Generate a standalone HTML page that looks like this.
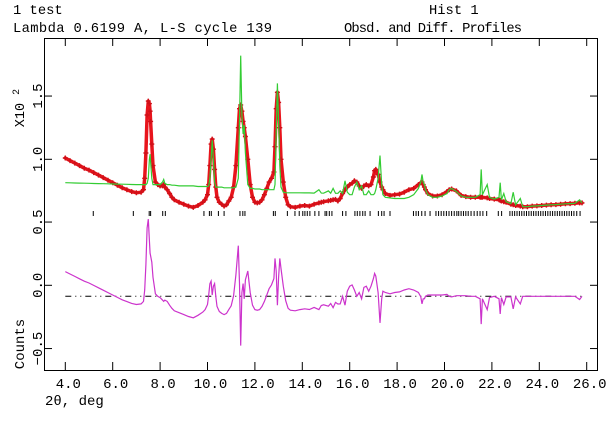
<!DOCTYPE html>
<html><head><meta charset="utf-8"><style>
html,body{margin:0;padding:0;background:#fff;}
svg{display:block;font-family:"Liberation Mono",monospace;}
</style></head><body>
<svg id="chart" width="607" height="422" viewBox="0 0 607 422" xmlns="http://www.w3.org/2000/svg">
<rect x="0" y="0" width="607" height="422" fill="#fff"/>
<text x="13" y="14" font-size="13.8">1 test</text>
<text x="429" y="14" font-size="13.8">Hist  1</text>
<text x="13" y="32" font-size="13.8" textLength="259">Lambda 0.6199 A, L-S cycle  139</text>
<text x="344" y="32" font-size="13.8" textLength="178">Obsd. and Diff. Profiles</text>
<rect x="44.5" y="38.5" width="553" height="332" fill="none" stroke="#000" stroke-width="1"/>
<g id="axes"></g>
<g id="refl"></g>
<g id="series"></g>
<text transform="translate(24,108) rotate(-90)" font-size="13.5" text-anchor="middle">X10 <tspan dy="-5" font-size="10">2</tspan></text>
<text transform="translate(24,344) rotate(-90)" font-size="14" text-anchor="middle">Counts</text>
<text x="45" y="405" font-size="14">2θ, deg</text>
</svg>
<script>
const twoTheta=[4.0,4.2,4.4,4.6,4.8,5.0,5.2,5.4,5.6,5.8,6.0,6.2,6.4,6.6,6.8,7.0,7.2,7.3,7.35,7.4,7.45,7.5,7.55,7.58,7.6,7.65,7.7,7.8,7.9,8.0,8.1,8.15,8.2,8.3,8.4,8.5,8.6,8.8,9.0,9.2,9.4,9.6,9.8,9.9,10.0,10.05,10.1,10.15,10.2,10.25,10.3,10.35,10.4,10.5,10.6,10.7,10.8,10.9,11.0,11.1,11.2,11.3,11.35,11.4,11.45,11.5,11.55,11.6,11.7,11.8,11.9,12.0,12.1,12.2,12.3,12.4,12.5,12.6,12.7,12.8,12.85,12.9,12.95,13.0,13.05,13.1,13.2,13.3,13.4,13.5,13.7,13.9,14.1,14.3,14.5,14.7,14.8,14.9,15.1,15.2,15.3,15.4,15.5,15.6,15.7,15.8,15.9,16.0,16.1,16.2,16.3,16.4,16.5,16.6,16.7,16.8,16.9,17.0,17.05,17.1,17.2,17.28,17.35,17.4,17.5,17.7,17.9,18.1,18.3,18.5,18.7,18.9,19.0,19.05,19.1,19.15,19.2,19.3,19.5,19.7,19.9,20.1,20.2,20.3,20.5,20.7,20.9,21.1,21.3,21.5,21.55,21.6,21.8,21.9,22.1,22.3,22.35,22.4,22.5,22.6,22.8,22.9,23.0,23.2,23.3,23.5,23.7,23.9,24.1,24.3,24.5,24.7,24.9,25.1,25.3,25.5,25.7,25.8];
const obsCounts=[1.01,.99,.97,.95,.93,.915,.895,.875,.855,.835,.815,.795,.775,.76,.745,.735,.74,.76,.85,1.05,1.35,1.46,1.44,1.38,1.30,1.12,.95,.82,.80,.79,.79,.80,.78,.76,.73,.70,.68,.66,.645,.63,.62,.635,.66,.68,.72,.80,.95,1.12,1.16,1.08,.92,.78,.70,.66,.645,.63,.64,.67,.70,.78,.95,1.25,1.40,1.43,1.38,1.30,1.25,1.18,1.00,.80,.70,.66,.655,.66,.68,.72,.77,.82,.85,.90,1.10,1.40,1.53,1.45,1.25,1.00,.82,.70,.64,.625,.62,.63,.635,.63,.645,.655,.66,.665,.672,.675,.68,.683,.67,.69,.73,.76,.78,.80,.81,.83,.82,.79,.77,.79,.80,.79,.80,.86,.91,.92,.88,.82,.78,.76,.73,.715,.72,.725,.74,.76,.77,.80,.815,.82,.80,.78,.76,.73,.71,.71,.72,.745,.76,.765,.75,.715,.705,.70,.70,.70,.70,.70,.695,.69,.685,.68,.675,.67,.665,.66,.645,.64,.635,.63,.625,.625,.63,.632,.635,.638,.64,.642,.645,.648,.65,.652,.655,.655];
const calcCounts=[.815,.814,.813,.812,.811,.810,.809,.808,.807,.806,.805,.804,.803,.802,.801,.80,.80,.80,.80,.80,.81,.85,1.00,1.04,.98,.85,.80,.80,.80,.80,.82,.84,.81,.80,.80,.795,.795,.79,.79,.79,.79,.785,.785,.785,.785,.79,.85,1.00,1.15,1.00,.82,.78,.78,.78,.78,.775,.775,.775,.775,.775,.78,.85,1.30,1.82,1.35,1.20,1.27,1.05,.80,.77,.77,.765,.765,.765,.76,.76,.76,.76,.76,.76,.80,1.20,1.60,1.30,.95,.78,.74,.735,.735,.735,.735,.735,.734,.734,.733,.76,.733,.732,.75,.732,.77,.731,.731,.75,.73,.83,.74,.72,.72,.78,.82,.76,.79,.72,.72,.75,.72,.72,.73,.76,.85,1.03,.80,.72,.70,.695,.69,.69,.69,.70,.72,.77,.82,.88,.82,.80,.76,.72,.70,.70,.71,.73,.76,.77,.745,.71,.70,.70,.70,.72,.92,.72,.80,.70,.685,.70,.815,.68,.73,.665,.65,.74,.64,.69,.625,.625,.63,.632,.635,.638,.64,.642,.645,.648,.65,.652,.68,.655];
const reflections=[5.18,6.87,7.54,7.6,8.11,8.22,9.85,10.08,10.16,10.46,10.7,11.37,11.49,11.58,12.78,12.86,13.37,13.69,13.87,14.02,14.11,14.21,14.32,14.53,14.7,14.96,15.03,15.14,15.25,15.7,15.84,16.22,16.32,16.43,16.55,16.65,16.86,17.21,17.35,17.45,17.7,18.69,18.8,18.9,19.04,19.18,19.39,19.64,19.75,19.86,19.97,20.08,20.19,20.3,20.41,20.52,20.6,20.7,20.8,20.9,21.0,21.12,21.25,21.38,21.5,21.62,21.78,22.27,22.41,22.76,22.86,22.96,23.06,23.16,23.26,23.36,23.46,23.56,23.66,23.76,23.86,23.96,24.06,24.16,24.26,24.36,24.46,24.56,24.66,24.76,24.86,24.96,25.06,25.16,25.26,25.36,25.46,25.58,25.72];
const xTickLabels=["4.0","6.0","8.0","10.0","12.0","14.0","16.0","18.0","20.0","22.0","24.0","26.0"];
const xTickValues=[4,6,8,10,12,14,16,18,20,22,24,26];
const yTickLabels=["1.5","1.0","0.5","0.0","\u22120.5"];
const yTickValues=[1.5,1.0,0.5,0.0,-0.5];

const NS="http://www.w3.org/2000/svg";
function X(t){return 65.3+(t-4)*23.7;}
function Y(v){return 159.3-(v-1.0)*126.5;}
function YT(v){return 285.3-v*126.5;}
function YD(d){return 296.3-d*126.5;}
function mk(tag,attrs,parent){const e=document.createElementNS(NS,tag);for(const k in attrs)e.setAttribute(k,attrs[k]);parent.appendChild(e);return e;}

const axes=document.getElementById('axes');
xTickValues.forEach((t,i)=>{
  const x=X(t);
  const a=mk('line',{x1:x,y1:38.5,x2:x,y2:46,stroke:'#000','stroke-width':1},axes);
  
  
  const b=mk('line',{x1:x,y1:362,x2:x,y2:370.5,stroke:'#000','stroke-width':1},axes);
  
  
  const tx=mk('text',{x:x+3,y:388,'font-size':14,'text-anchor':'middle'},axes);
  tx.textContent=xTickLabels[i];
  
  
});
yTickValues.forEach((v,i)=>{
  const y=v>=1.0?Y(v):YT(v);
  const a=mk('line',{x1:44.5,y1:y,x2:52,y2:y,stroke:'#000','stroke-width':1},axes);
  
  
  const b=mk('line',{x1:590,y1:y,x2:597.5,y2:y,stroke:'#000','stroke-width':1},axes);
  
  
  const tx=mk('text',{transform:'translate(42,'+y+') rotate(-90)','font-size':14,'text-anchor':'middle'},axes);
  tx.textContent=yTickLabels[i];
  
  
});

const refl=document.getElementById('refl');
reflections.forEach(t=>{
  const l=mk('line',{x1:X(t),y1:211,x2:X(t),y2:216,stroke:'#000','stroke-width':1},refl);
  
  
});

const series=document.getElementById('series');
const zl=mk('line',{x1:X(4),y1:YD(0),x2:X(25.8),y2:YD(0),stroke:'#000','stroke-width':1,'stroke-dasharray':'6,4,1,4,1,4'},series);



const obsPts=twoTheta.map((t,i)=>X(t).toFixed(1)+','+Y(obsCounts[i]).toFixed(1)).join(' ');
const obsBand=mk('polyline',{points:obsPts,fill:'none',stroke:'#e8141c','stroke-width':3.5,'stroke-linejoin':'round','stroke-linecap':'round'},series);



const obsG=mk('g',{stroke:'#d01018','stroke-width':1.4},series);


let d='';
twoTheta.forEach((t,i)=>{
  const x=X(t),y=Y(obsCounts[i]);
  d+='M'+(x-2.5).toFixed(1)+' '+y.toFixed(1)+'h5M'+x.toFixed(1)+' '+(y-2.5).toFixed(1)+'v5';
});
const obsPath=mk('path',{d:d,fill:'none'},obsG);



const calcPts=twoTheta.map((t,i)=>X(t).toFixed(1)+','+Y(calcCounts[i]).toFixed(1)).join(' ');
const calcLine=mk('polyline',{points:calcPts,fill:'none',stroke:'#33cc33','stroke-width':1.2},series);



const diffPts=twoTheta.map((t,i)=>X(t).toFixed(1)+','+YD(obsCounts[i]-calcCounts[i]).toFixed(1)).join(' ');
const diffLine=mk('polyline',{points:diffPts,fill:'none',stroke:'#cc33cc','stroke-width':1.2},series);


</script>
</body></html>
